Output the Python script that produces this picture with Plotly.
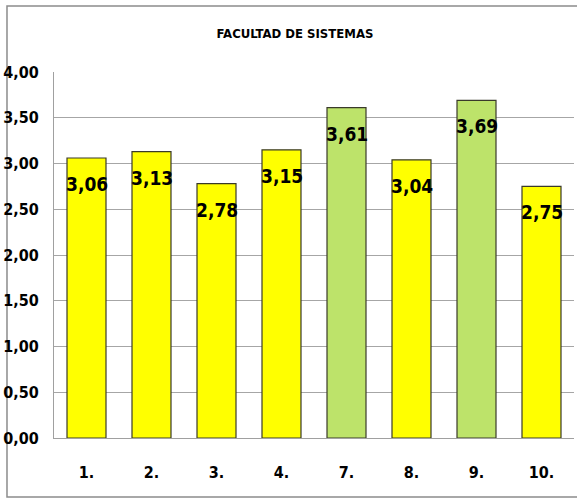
import plotly.graph_objects as go

# Average scores per question, Facultad de Sistemas
categories = ["1.", "2.", "3.", "4.", "7.", "8.", "9.", "10."]
scores = [3.06, 3.13, 2.78, 3.15, 3.61, 3.04, 3.69, 2.75]
highlighted = [False, False, False, False, True, False, True, False]
y_ticks = [0, 0.5, 1.0, 1.5, 2.0, 2.5, 3.0, 3.5, 4.0]

YELLOW = "#FFFF00"
GREEN = "#BDE36A"
FONT = "DejaVu Sans Condensed, Liberation Sans Narrow, sans-serif"


def fmt(v):
    return f"{v:.2f}".replace(".", ",")


positions = list(range(len(categories)))
colors = [GREEN if h else YELLOW for h in highlighted]

fig = go.Figure()
fig.add_trace(go.Bar(
    x=positions,
    y=scores,
    marker=dict(color=colors, line=dict(color="#3A3A2A", width=1.2)),
    hoverinfo="skip",
))

# value labels just below each bar top
for pos, val in zip(positions, scores):
    fig.add_annotation(
        x=pos, y=val, text=f"<b>{fmt(val)}</b>", showarrow=False,
        yanchor="top", yshift=-13,
        font=dict(family=FONT, size=19, color="#000000"),
    )

# chart frame
fig.add_shape(
    type="rect", xref="paper", yref="paper",
    x0=-0.0904, x1=1.02, y0=-0.161, y1=1.180,
    line=dict(color="#8C8C8C", width=1.5), fillcolor="rgba(0,0,0,0)",
    layer="below",
)

fig.update_layout(
    width=577, height=498,
    margin=dict(l=54, r=3, t=72, b=60),
    paper_bgcolor="white", plot_bgcolor="white",
    bargap=0.4,
    showlegend=False,
    title=dict(
        text="<b>FACULTAD DE SISTEMAS</b>",
        x=295 / 577, xanchor="center", y=1 - 33 / 498, yanchor="middle",
        font=dict(family=FONT, size=13, color="#000000"),
    ),
    xaxis=dict(
        range=[-0.5, len(categories) - 0.5],
        tickvals=positions, ticktext=[f"<b>{c}</b>" for c in categories],
        showgrid=False, showline=True, linecolor="#A0A0A0", linewidth=1,
        zeroline=False,
        ticks="", tickfont=dict(family=FONT, size=16, color="#000000"),
        ticklabelstandoff=20, fixedrange=True,
    ),
    yaxis=dict(
        range=[0, 4], tickvals=y_ticks, ticktext=[f"<b>{fmt(t)}</b>" for t in y_ticks],
        showgrid=True, gridcolor="#A6A6A6", gridwidth=1,
        showline=True, linecolor="#A0A0A0", linewidth=1, zeroline=False,
        ticks="", tickfont=dict(family=FONT, size=16, color="#000000"),
        ticklabelstandoff=11, fixedrange=True,
    ),
)

fig.write_html("out.html")
